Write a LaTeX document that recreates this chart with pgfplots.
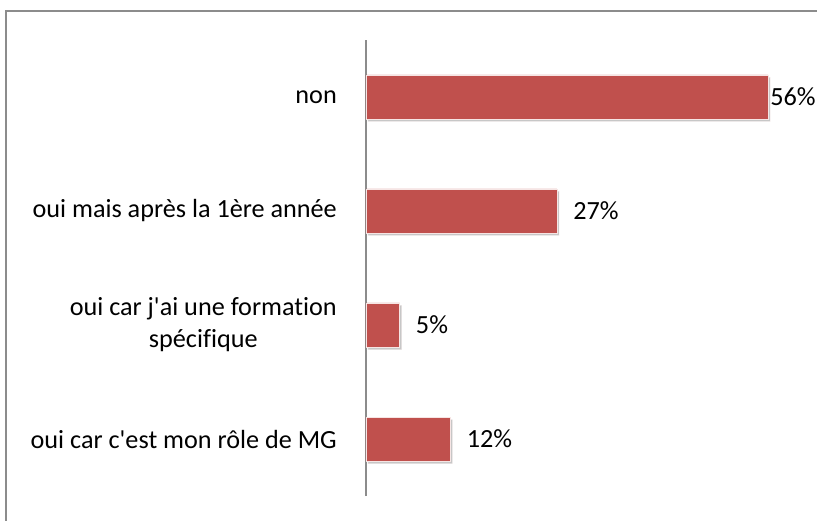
\documentclass[border=0pt]{standalone}
\usepackage{fontspec}
\usepackage{pgfplots}
\pgfplotsset{compat=1.18}
\usetikzlibrary{shadows}
\newfontfamily\lab{Carlito}[Ligatures={NoCommon}]
\setmainfont{Carlito}
\definecolor{barred}{HTML}{C0504D}
\begin{document}
\begin{tikzpicture}[x=1pt,y=1pt]
\useasboundingbox (0,0) rectangle (817,520);
\draw[draw=black!45, line width=1.6pt] (6,-10) -- (6,509) -- (830,509);
\begin{axis}[
  at={(366pt,24pt)}, anchor=south west,
  scale only axis, width=402pt, height=456pt,
  xmin=0, xmax=56.2, ymin=-0.5, ymax=3.5,
  xbar, bar width=44pt, clip=false,
  axis x line=none, axis y line*=left,
  y axis line style={draw=black!45, line width=1.3pt},
  ytick={0,1,2,3},
  yticklabels={{oui car c'est mon rôle de MG},{oui car j'ai une formation\\spécifique},{oui mais après la 1ère année},{non}},
  major tick length=0pt, ytick style={draw=none},
  yticklabel style={font=\lab\fontsize{26.2}{32}\selectfont, align=center, inner sep=0pt, xshift=-29pt, text=black},
  point meta=explicit symbolic,
  visualization depends on={\thisrow{s} \as \labshift},
  nodes near coords={\pgfplotspointmeta\%},
  every node near coord/.append style={font=\lab\fontsize{26.2}{32}\selectfont, anchor=west, inner sep=0pt, xshift=\labshift pt, text=black},
]
\addplot[fill=barred, draw=white!85!barred, line width=0.7pt,
  drop shadow={shadow xshift=2pt, shadow yshift=-2.5pt, fill=black, opacity=0.22}]
  table[x=v, y=c, meta=m] {
c v m s
0 11.8 12 16
1 4.7 5 16
2 26.7 27 16
3 56.2 56 2
};
\end{axis}
\end{tikzpicture}
\end{document}
